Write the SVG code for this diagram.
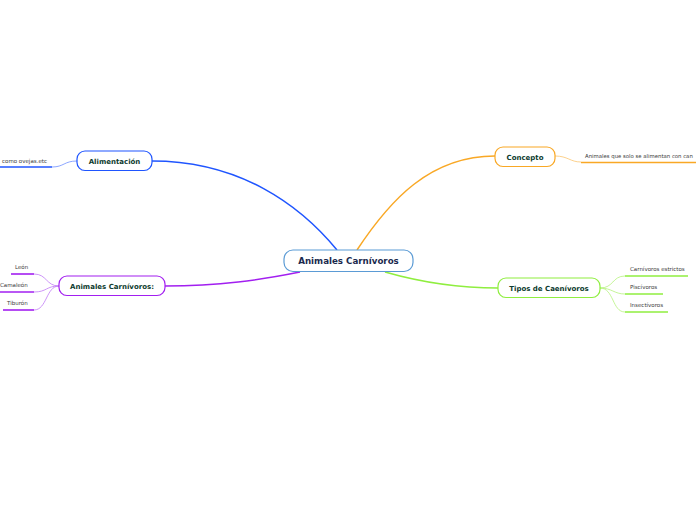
<svg xmlns="http://www.w3.org/2000/svg" width="696" height="520" viewBox="0 0 696 520">
<style>
.node{fill:#fff;stroke-width:1.2}
.lbl{font-family:"DejaVu Sans",Verdana,sans-serif;font-weight:bold;font-size:7px;fill:#0d3b2e;text-anchor:middle}
.leaf{font-family:"DejaVu Sans",Verdana,sans-serif;font-size:5.5px;fill:#3a3a3a}
.main{fill:none;stroke-width:1.5}
.thin{fill:none;stroke-width:0.8}
.ul{stroke-width:1.6}
</style>
<rect width="696" height="520" fill="#fff"/>
<g id="connectors">
<path class="main" stroke="#1f55ff" d="M337,250 C300,205 240,161 152,161"/>
<path class="main" stroke="#f9a825" d="M357,250 C390,200 430,156 495,156"/>
<path class="main" stroke="#8fee3f" d="M385,272 C420,282 460,288 498,288"/>
<path class="main" stroke="#a21ff0" d="M300,272 C260,280 220,286 165,286"/>
<path class="thin" stroke="#6f8fff" d="M77,161 C64,161 64,167 52,167"/>
<path class="thin" stroke="#fbc570" d="M555,156 C568,156 570,162 581,162"/>
<path class="thin" stroke="#b6f27e" d="M600,288 C614,288 612,276 625,276"/>
<path class="thin" stroke="#b6f27e" d="M600,288 C612,288 614,294 625,294"/>
<path class="thin" stroke="#b6f27e" d="M600,288 C614,288 612,312 625,312"/>
<path class="thin" stroke="#c07af5" d="M59,286 C46,286 47,274 34,274"/>
<path class="thin" stroke="#c07af5" d="M59,286 C46,286 47,292 34,292"/>
<path class="thin" stroke="#c07af5" d="M59,286 C46,286 47,310 34,310"/>
</g>
<g id="central">
<rect class="node" x="284" y="250" width="129" height="21.5" rx="9" stroke="#5b9bd5"/>
<text class="lbl" x="348.5" y="264" style="font-size:8.7px;fill:#1b2a4e">Animales Carnívoros</text>
</g>
<g id="alimentacion">
<rect class="node" x="77" y="151" width="75" height="19.5" rx="8" stroke="#1f55ff"/>
<text class="lbl" x="114.5" y="163.5">Alimentación</text>
</g>
<g id="leaf-ovejas">
<text class="leaf" x="2" y="162.5">como ovejas.etc</text>
<line class="ul" x1="0" y1="167" x2="52" y2="167" stroke="#1f55ff"/>
</g>
<g id="concepto">
<rect class="node" x="495" y="147" width="60" height="19.5" rx="8" stroke="#f9a825"/>
<text class="lbl" x="525" y="159.5">Concepto</text>
</g>
<g id="leaf-concepto">
<text class="leaf" x="585" y="158" style="font-size:5.35px">Animales que solo se alimentan con can</text>
<line class="ul" x1="581" y1="162.5" x2="696" y2="162.5" stroke="#f9a825"/>
</g>
<g id="tipos">
<rect class="node" x="498" y="278" width="102" height="19.5" rx="8" stroke="#8fee3f"/>
<text class="lbl" x="549" y="290.5">Tipos de Caenívoros</text>
</g>
<g id="leaf-estrictos">
<text class="leaf" x="630" y="271">Carnívoros estrictos</text>
<line class="ul" x1="625" y1="276" x2="688" y2="276" stroke="#8fee3f"/>
</g>
<g id="leaf-piscivoros">
<text class="leaf" x="630" y="289">Piscívoros</text>
<line class="ul" x1="625" y1="294" x2="663" y2="294" stroke="#8fee3f"/>
</g>
<g id="leaf-insectivoros">
<text class="leaf" x="630" y="307">Insectívoros</text>
<line class="ul" x1="625" y1="312" x2="668" y2="312" stroke="#8fee3f"/>
</g>
<g id="animales">
<rect class="node" x="59" y="276" width="106" height="19.5" rx="8" stroke="#a21ff0"/>
<text class="lbl" x="112" y="288.5">Animales Carnívoros:</text>
</g>
<g id="leaf-leon">
<text class="leaf" x="15" y="269">León</text>
<line class="ul" x1="11" y1="274" x2="34" y2="274" stroke="#a21ff0"/>
</g>
<g id="leaf-camaleon">
<text class="leaf" x="0" y="287">Camaleón</text>
<line class="ul" x1="0" y1="292" x2="34" y2="292" stroke="#a21ff0"/>
</g>
<g id="leaf-tiburon">
<text class="leaf" x="7" y="305">Tiburón</text>
<line class="ul" x1="3" y1="310" x2="34" y2="310" stroke="#a21ff0"/>
</g>
</svg>
